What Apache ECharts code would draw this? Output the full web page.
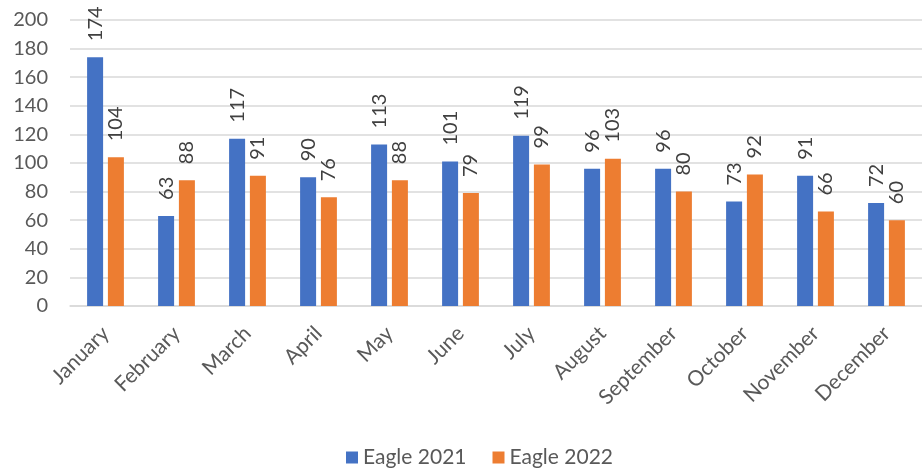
<!DOCTYPE html>
<html><head><meta charset="utf-8">
<script src="https://cdn.jsdelivr.net/npm/echarts@6/dist/echarts.min.js"></script>
<style>html,body{margin:0;padding:0;background:#fff}#c{width:922px;height:471px}</style>
</head><body><div id="c"></div>
<script>
const categories = ['January','February','March','April','May','June','July','August','September','October','November','December'];
const eagle2021 = [174,63,117,90,113,101,119,96,96,73,91,72];
const eagle2022 = [104,88,91,76,88,79,99,103,80,92,66,60];
const seriesNames = ['Eagle 2021','Eagle 2022'];
const FONT = 'Lato';
const chart = echarts.init(document.getElementById('c'));
const lbl = {show:true, position:'top', rotate:90, align:'left', verticalAlign:'middle', distance:16, color:'#404040', fontSize:20, fontFamily:FONT};
chart.setOption({
  animation:false,
  textStyle:{fontFamily:FONT},
  grid:{left:70, right:0, top:20, bottom:165},
  legend:{top:442, left:341, itemWidth:12, itemHeight:12, itemGap:26, icon:'rect',
    textStyle:{color:'#595959', fontSize:21, fontFamily:FONT}, data:seriesNames},
  xAxis:{type:'category', data:categories,
    axisLine:{lineStyle:{color:'#d9d9d9', width:1.5}}, axisTick:{show:false},
    axisLabel:{rotate:45, color:'#595959', fontSize:21, fontFamily:FONT, interval:0, margin:24}},
  yAxis:{type:'value', min:0, max:200, interval:20,
    axisLine:{show:false}, axisTick:{show:false},
    axisLabel:{color:'#595959', fontSize:20, fontFamily:FONT, margin:22},
    splitLine:{lineStyle:{color:'#d9d9d9', width:1.5}}},
  series:[
    {name:seriesNames[0], type:'bar', data:eagle2021, barWidth:16, barGap:'30%', itemStyle:{color:'#4472c4'}, label:lbl},
    {name:seriesNames[1], type:'bar', data:eagle2022, barWidth:16, barGap:'30%', itemStyle:{color:'#ed7d31'}, label:lbl}
  ]
});
</script></body></html>
